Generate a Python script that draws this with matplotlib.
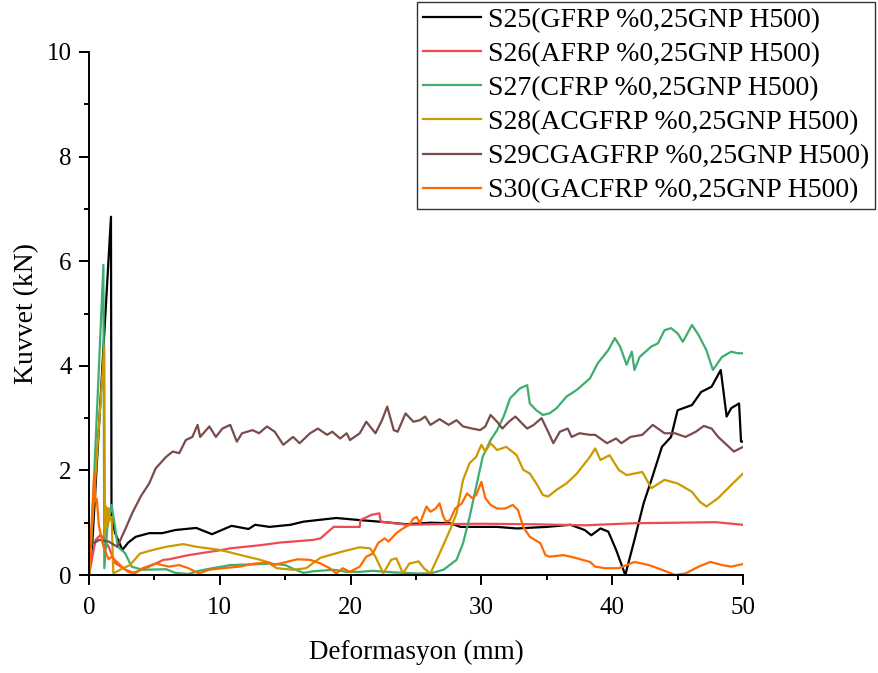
import matplotlib
matplotlib.use("Agg")
import matplotlib.pyplot as plt
from matplotlib.ticker import MultipleLocator

plt.rcParams['font.family'] = ['Liberation Serif', 'DejaVu Serif']

labels = ["S25(GFRP %0,25GNP H500)", "S26(AFRP %0,25GNP H500)", "S27(CFRP %0,25GNP H500)",
          "S28(ACGFRP %0,25GNP H500)", "S29CGAGFRP %0,25GNP H500)", "S30(GACFRP %0,25GNP H500)"]
colors = ["#000000", "#EE4A50", "#3DAE6E", "#CC9900", "#7A4B4B", "#FF6A00"]

s25 = [(0, 0), (0.25, 0.6), (1.68, 6.85), (1.72, 1.1), (2.0, 0.8), (2.55, 0.48), (3.0, 0.62), (3.57, 0.73),
       (4.6, 0.80), (5.6, 0.80), (6.6, 0.86), (8.2, 0.90), (9.4, 0.78), (10.9, 0.94), (12.2, 0.88),
       (12.7, 0.96), (13.8, 0.92), (15.4, 0.96), (16.4, 1.02), (18.9, 1.09), (20.7, 1.05), (22.2, 1.02),
       (24.3, 0.97), (26.1, 1.0), (27.6, 0.99), (28.4, 0.92), (31.2, 0.92), (32.7, 0.89), (35.0, 0.92),
       (36.8, 0.96), (37.9, 0.86), (38.4, 0.76), (39.1, 0.89), (39.7, 0.83), (40.3, 0.48), (41.0, 0.0),
       (41.7, 0.67), (42.4, 1.37), (43.0, 1.82), (43.8, 2.45), (44.5, 2.64), (45.0, 3.15), (46.1, 3.25),
       (46.8, 3.50), (47.6, 3.60), (48.3, 3.92), (48.75, 3.03), (49.1, 3.19), (49.7, 3.28), (49.85, 2.55),
       (50, 2.55)]

s26 = [(0, 0), (0.5, 0.67), (0.9, 0.77), (1.5, 0.54), (2.0, 0.23), (2.8, 0.1), (3.4, 0.04), (4.6, 0.16),
       (5.7, 0.29), (6.1, 0.30), (7.6, 0.38), (10.2, 0.48), (10.8, 0.51), (13.1, 0.57), (14.6, 0.62),
       (15.6, 0.64), (17.1, 0.67), (17.7, 0.70), (18.7, 0.92), (20.7, 0.92), (20.75, 1.05), (21.6, 1.15),
       (22.2, 1.18), (22.3, 1.02), (24.3, 0.96), (26.1, 0.97), (30, 0.98), (34, 0.97), (37.9, 0.95),
       (41.7, 0.99), (45, 1.0), (47.9, 1.01), (50, 0.96)]

s27 = [(0, 0), (0.15, 0.5), (1.1, 5.93), (1.17, 0.13), (1.4, 0.9), (1.73, 1.34), (2.0, 0.9), (2.2, 0.54),
       (2.75, 0.42), (3.26, 0.16), (4.1, 0.1), (5.9, 0.11), (6.6, 0.04), (7.6, 0.02), (8.4, 0.08),
       (9.0, 0.11), (10.8, 0.19), (13.3, 0.21), (13.8, 0.22), (15.0, 0.19), (15.6, 0.12), (16.4, 0.04),
       (17.1, 0.07), (18.7, 0.1), (19.7, 0.06), (20.7, 0.06), (21.7, 0.08), (23.3, 0.05), (25.0, 0.03),
       (26.1, 0.03), (27.1, 0.1), (28.1, 0.29), (28.6, 0.61), (29.1, 1.11), (29.6, 1.69), (30.1, 2.26),
       (30.7, 2.58), (31.2, 2.77), (31.7, 3.03), (32.2, 3.38), (32.95, 3.57), (33.5, 3.63), (33.7, 3.28),
       (34.2, 3.15), (34.7, 3.06), (35.2, 3.09), (35.75, 3.19), (36.5, 3.41), (37.3, 3.54), (38.3, 3.76),
       (38.9, 4.05), (39.7, 4.30), (40.2, 4.53), (40.6, 4.37), (41.1, 4.02), (41.5, 4.27), (41.7, 3.92),
       (42.1, 4.17), (43.0, 4.37), (43.5, 4.43), (44.0, 4.68), (44.5, 4.72), (45.0, 4.62), (45.4, 4.46),
       (46.1, 4.78), (46.6, 4.59), (47.2, 4.30), (47.7, 3.92), (48.4, 4.17), (49.1, 4.27), (49.6, 4.24),
       (50, 4.24)]

s28 = [(0, 0), (0.15, 0.6), (1.17, 4.37), (1.22, 0.75), (1.3, 1.31), (1.4, 0.92), (1.5, 1.28), (1.6, 1.05),
       (1.73, 1.11), (1.86, 0.03), (2.37, 0.1), (3.13, 0.19), (3.9, 0.41), (4.9, 0.48), (5.9, 0.54),
       (7.2, 0.59), (8.2, 0.54), (10.0, 0.48), (12.1, 0.35), (13.1, 0.29), (13.6, 0.25), (14.35, 0.13),
       (15.6, 0.1), (16.6, 0.13), (17.7, 0.33), (19.4, 0.45), (20.7, 0.53), (21.5, 0.51), (21.9, 0.35),
       (22.5, 0.03), (23.1, 0.29), (23.5, 0.32), (24.0, 0.03), (24.5, 0.22), (25.2, 0.26), (25.6, 0.13),
       (26.1, 0.03), (26.8, 0.41), (27.6, 0.86), (28.1, 1.18), (28.6, 1.82), (29.1, 2.14), (29.6, 2.26),
       (30.0, 2.49), (30.3, 2.36), (30.7, 2.52), (31.2, 2.39), (31.9, 2.45), (32.7, 2.29), (33.2, 2.01),
       (33.7, 1.94), (34.2, 1.75), (34.7, 1.53), (35.1, 1.50), (35.75, 1.63), (36.5, 1.75), (37.3, 1.94),
       (38.3, 2.26), (38.7, 2.42), (39.1, 2.20), (39.8, 2.29), (40.5, 2.01), (41.1, 1.91), (42.3, 1.97),
       (43.0, 1.66), (44.0, 1.82), (45.0, 1.75), (46.1, 1.59), (46.7, 1.40), (47.2, 1.31), (48.1, 1.47),
       (49.1, 1.72), (50, 1.94)]

s29 = [(0, 0.55), (0.76, 0.67), (1.5, 0.64), (2.16, 0.54), (2.8, 0.89), (3.3, 1.18), (3.95, 1.50),
       (4.6, 1.75), (5.1, 2.04), (5.9, 2.26), (6.4, 2.36), (6.9, 2.33), (7.4, 2.58), (7.9, 2.64), (8.3, 2.87),
       (8.5, 2.64), (9.2, 2.84), (9.7, 2.64), (10.2, 2.80), (10.8, 2.87), (11.3, 2.55), (11.7, 2.71),
       (12.5, 2.77), (13.0, 2.71), (13.6, 2.84), (14.2, 2.74), (14.85, 2.49), (15.6, 2.64), (16.1, 2.52),
       (16.9, 2.71), (17.5, 2.80), (18.2, 2.68), (18.6, 2.74), (19.2, 2.61), (19.7, 2.71), (19.95, 2.58),
       (20.7, 2.71), (21.2, 2.93), (21.9, 2.71), (22.4, 2.96), (22.8, 3.22), (23.3, 2.77), (23.6, 2.74),
       (24.2, 3.09), (24.8, 2.93), (25.3, 2.96), (25.7, 3.03), (26.1, 2.87), (26.8, 2.98), (27.5, 2.87),
       (28.1, 2.96), (28.6, 2.84), (29.3, 2.80), (29.9, 2.77), (30.3, 2.84), (30.7, 3.06), (31.2, 2.93),
       (31.6, 2.80), (32.1, 2.93), (32.6, 3.03), (33.1, 2.90), (33.5, 2.80), (34.0, 2.87), (34.6, 3.0),
       (35.1, 2.74), (35.5, 2.52), (36.0, 2.74), (36.6, 2.80), (36.9, 2.64), (37.5, 2.71), (38.3, 2.68),
       (38.7, 2.68), (39.6, 2.52), (40.3, 2.61), (40.7, 2.52), (41.4, 2.64), (42.3, 2.68), (43.1, 2.87),
       (44.0, 2.71), (44.8, 2.71), (45.6, 2.64), (46.4, 2.74), (47.0, 2.85), (47.6, 2.80), (48.1, 2.64),
       (48.75, 2.49), (49.3, 2.36), (50, 2.45)]

s30 = [(0, 0), (0.4, 1.94), (0.5, 1.4), (0.6, 1.45), (0.75, 0.95), (1.1, 0.54), (1.5, 0.3), (1.73, 0.35),
       (2.55, 0.15), (3.0, 0.06), (3.5, 0.03), (4.1, 0.13), (5.1, 0.22), (6.1, 0.16), (6.9, 0.19), (7.6, 0.13),
       (8.4, 0.03), (9.2, 0.1), (10.2, 0.13), (11.5, 0.16), (12.7, 0.22), (13.8, 0.24), (14.1, 0.19),
       (15.1, 0.25), (15.9, 0.30), (16.9, 0.29), (17.7, 0.22), (18.4, 0.13), (18.9, 0.03), (19.4, 0.13),
       (19.95, 0.06), (20.7, 0.16), (21.2, 0.35), (21.7, 0.41), (22.1, 0.61), (22.6, 0.70), (22.9, 0.64),
       (23.5, 0.80), (24.0, 0.89), (24.5, 0.96), (24.8, 1.08), (25.05, 1.11), (25.3, 0.99), (25.8, 1.31),
       (26.1, 1.21), (26.5, 1.27), (26.8, 1.37), (27.1, 1.11), (27.3, 1.02), (27.6, 1.05), (28.0, 1.27),
       (28.5, 1.37), (28.9, 1.56), (29.3, 1.47), (29.6, 1.53), (30.0, 1.78), (30.3, 1.47), (30.7, 1.34),
       (31.2, 1.27), (31.8, 1.27), (32.4, 1.34), (32.8, 1.24), (33.2, 0.92), (33.7, 0.73), (34.5, 0.61),
       (34.9, 0.38), (35.2, 0.35), (36.3, 0.38), (37.3, 0.32), (38.3, 0.25), (38.7, 0.16), (39.45, 0.13),
       (40.5, 0.13), (41.7, 0.25), (42.8, 0.19), (43.8, 0.1), (44.8, 0.0), (45.6, 0.03), (46.6, 0.16),
       (47.5, 0.25), (48.4, 0.19), (49.1, 0.16), (50, 0.21)]

series = [s25, s26, s27, s28, s29, s30]

W, H = 879, 673
fig = plt.figure(figsize=(W / 100, H / 100), dpi=100)
ax = fig.add_axes([89 / W, 1 - 575 / H, (743 - 89) / W, (575 - 52) / H])

for data, lab, col in zip(series, labels, colors):
    xs = [p[0] for p in data]
    ys = [p[1] for p in data]
    ax.plot(xs, ys, color=col, lw=1.6, label=lab, solid_joinstyle='round')

ax.set_xlim(0, 50)
ax.set_ylim(0, 10)
ax.xaxis.set_major_locator(MultipleLocator(10))
ax.xaxis.set_minor_locator(MultipleLocator(5))
ax.yaxis.set_major_locator(MultipleLocator(2))
ax.yaxis.set_minor_locator(MultipleLocator(1))
for s in ['top', 'right']:
    ax.spines[s].set_visible(False)
for s in ['left', 'bottom']:
    ax.spines[s].set_linewidth(1.4)
ax.tick_params(which='major', direction='out', length=7, width=1.4, labelsize=18, pad=5.5)
ax.tick_params(which='minor', direction='out', length=3.8, width=1.4)
ax.tick_params(axis='x', which='major', pad=9)

ax.set_xlabel("Deformasyon (mm)", fontsize=19.5)
ax.set_ylabel("Kuvvet (kN)", fontsize=20)
ax.xaxis.set_label_coords(0.5, -0.124)
ax.yaxis.set_label_coords(-0.077, 0.5)

leg = fig.legend(loc='upper right', bbox_to_anchor=(875 / W, 1 - 2 / H), bbox_transform=fig.transFigure,
                 fontsize=20, frameon=True, fancybox=False, framealpha=1, edgecolor='#333333',
                 handlelength=2.1, handletextpad=0.25, labelspacing=0.31, borderpad=0.2, borderaxespad=0)
leg.get_frame().set_linewidth(1.0)

fig.savefig("out.png", dpi=100)
